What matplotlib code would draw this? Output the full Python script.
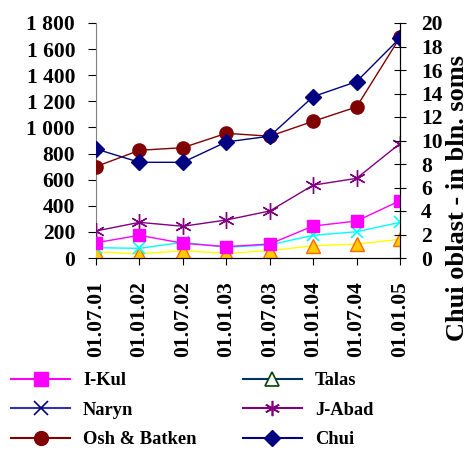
import numpy as np
import matplotlib.pyplot as plt
from matplotlib.lines import Line2D

plt.rcParams['font.family'] = ['Liberation Serif', 'DejaVu Serif']
plt.rcParams['font.weight'] = 'bold'

## dates on the x axis
dates = ['01.07.01', '01.01.02', '01.07.02', '01.01.03',
         '01.07.03', '01.01.04', '01.07.04', '01.01.05']

## series (left axis units)
ikul = [117, 174, 113, 87, 107, 245, 283, 439]
naryn = [79, 74, 120, 82, 100, 174, 201, 273]
talas = [48, 31, 56, 36, 56, 94, 107, 143]
jabad = [207, 273, 243, 291, 360, 558, 610, 877]
osh = [700, 825, 845, 955, 933, 1047, 1157, 1690]
chui = [835, 733, 733, 889, 933, 1236, 1351, 1685]

left_ticks = [0, 200, 400, 600, 800, 1000, 1200, 1400, 1600, 1800]
left_labels = ['0', '200', '400', '600', '800', '1 000', '1 200', '1 400', '1 600', '1 800']
right_ticks = [0, 2, 4, 6, 8, 10, 12, 14, 16, 18, 20]

fig = plt.figure(figsize=(4.72, 4.5), dpi=100)
ax = fig.add_axes([96/472, 1-258/450, 304/472, 235/450])

x = np.arange(len(dates))
lw = 1.0
ax.plot(x, talas, color='#FFFF00', lw=lw, marker='^', ms=10, mfc='#FFCC00', mec='#FF6600', mew=1, zorder=3)
ax.plot(x, naryn, color='#00FFFF', lw=lw, marker='x', ms=9, mew=1.2, zorder=3)
ax.plot(x, ikul, color='#FF00FF', lw=lw, marker='s', ms=9, mfc='#FF00FF', mec='#FF00FF', zorder=4)
ax.plot(x, jabad, color='#800080', lw=lw, marker=(6, 2, 0), ms=12, mew=1, zorder=3)
ax.plot(x, osh, color='#800000', lw=lw, marker='o', ms=9.5, zorder=3)
ax.plot(x, chui, color='#000080', lw=lw, marker='D', ms=8, zorder=4)

ax.set_xlim(0, 7)
ax.set_ylim(0, 1800)
ax.set_yticks(left_ticks)
ax.set_yticklabels(left_labels, fontsize=15.5, fontweight='bold')
ax.set_xticks(x)
ax.set_xticklabels(dates, rotation=90, fontsize=15.5, fontweight='bold')
ax.tick_params(axis='x', length=5, pad=12)
ax.tick_params(axis='y', length=6, pad=9)
ax.spines['top'].set_visible(False)
ax.spines['left'].set_color('#808080')

## second axis for Chui oblast
ax2 = ax.twinx()
ax2.set_ylim(0, 20)
ax2.set_yticks(right_ticks)
ax2.set_yticklabels([str(t) for t in right_ticks], fontsize=15.5, fontweight='bold')
ax2.tick_params(axis='y', direction='inout', length=8, pad=11)
ax2.spines['top'].set_visible(False)
ax2.spines['left'].set_visible(False)

fig.text(446/472, 1-198/450, 'Chui oblast - in bln. soms', rotation=90,
         ha='left', va='center', fontsize=19, fontweight='bold')

#### legend ####
handles = [
    Line2D([], [], color='#FF00FF', marker='s', ms=10, mfc='#FF00FF', mec='#FF00FF'),
    Line2D([], [], color='#3333AA', marker='x', ms=10, mec='#000080', mew=1.2),
    Line2D([], [], color='#800000', marker='o', ms=10, mfc='#800000'),
    Line2D([], [], color='#003366', marker='^', ms=10, mfc='white', mec='#004400', mew=1.2),
    Line2D([], [], color='#800080', marker=(6, 2, 0), ms=11, mew=1.2),
    Line2D([], [], color='#000080', marker='D', ms=8),
]
labels = ['I-Kul', 'Naryn', 'Osh & Batken', 'Talas', 'J-Abad', 'Chui']
fig.legend(handles, labels, ncol=2, loc='upper left', bbox_to_anchor=(0.0, 1-361/450),
           frameon=False, handlelength=3.2, handletextpad=0.7,
           labelspacing=0.68, columnspacing=2.5, borderaxespad=0.2,
           prop={'weight': 'bold', 'size': 13.3})

fig.savefig('out.png', dpi=100)
